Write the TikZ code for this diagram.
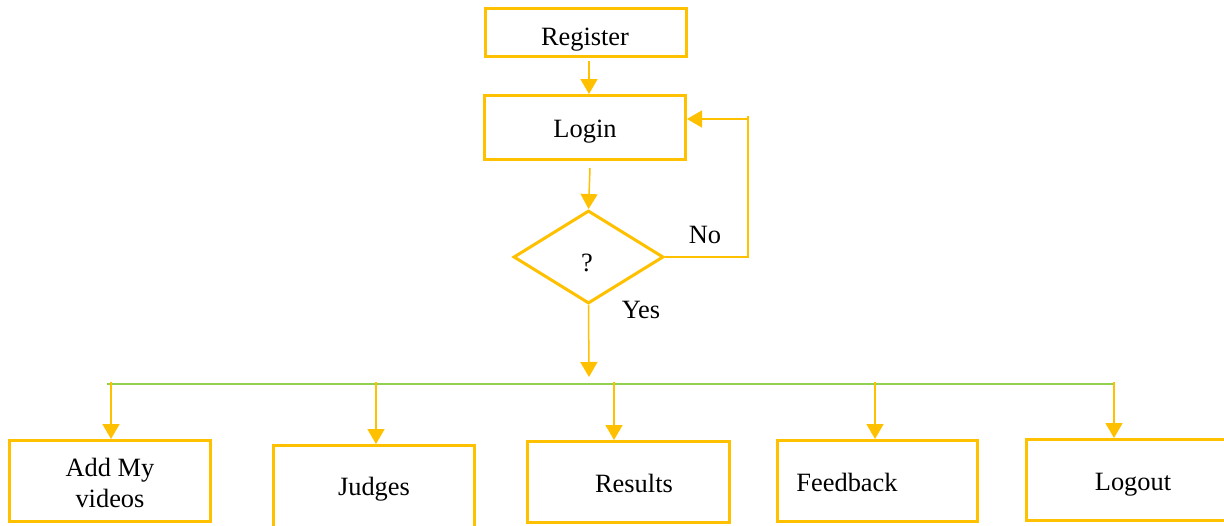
\documentclass[tikz,border=0pt]{standalone}
\usepackage{fontspec}
\setmainfont{Liberation Serif}
\usetikzlibrary{arrows.meta,shapes.geometric}
\definecolor{gold}{HTML}{FFC000}
\definecolor{lgreen}{HTML}{92D050}
\begin{document}
\begin{tikzpicture}[x=1pt,y=-1pt,
  box/.style={draw=gold,line width=3pt,rectangle,inner sep=0pt},
  lbl/.style={anchor=base,inner sep=0pt,font=\fontsize{26.4}{30}\selectfont},
  conn/.style={draw=gold,line width=1.5pt,-{Triangle[length=15pt,width=17pt]}},
  plain/.style={draw=gold,line width=1.5pt},
  bus/.style={draw=lgreen,line width=1.5pt}]
\useasboundingbox (0,0) rectangle (1224,525);
\clip (0,0) rectangle (1224,525);
% boxes
\node[box,minimum width=201pt,minimum height=48pt] (reg) at (586,32.5) {};
\node[box,minimum width=201pt,minimum height=64pt] (login) at (585,127.5) {};
\node[draw=gold,line width=3pt,diamond,inner sep=0pt,minimum width=150pt,minimum height=93pt] (dia) at (588.5,257) {};
\node[box,minimum width=201pt,minimum height=81pt] (add) at (110,481) {};
\node[box,minimum width=201pt,minimum height=93pt] (judges) at (374,492) {};
\node[box,minimum width=202pt,minimum height=81pt] (results) at (628.5,482) {};
\node[box,minimum width=200pt,minimum height=81pt] (feedback) at (877.5,481) {};
\node[box,minimum width=201pt,minimum height=81pt] (logout) at (1127,480) {};
% texts
\node[lbl] (tReg) at (585,45) {Register};
\node[lbl] (tLogin) at (585,137) {Login};
\node[lbl] (tQ) at (587,271) {?};
\node[lbl] (tNo) at (705,243) {No};
\node[lbl] (tYes) at (641,318) {Yes};
\node[lbl] (tAdd1) at (110,476) {Add My};
\node[lbl] (tAdd2) at (110,507) {videos};
\node[lbl] (tJudges) at (374,495) {Judges};
\node[lbl] (tResults) at (634,492) {Results};
\node[lbl] (tFeedback) at (847,491) {Feedback};
\node[lbl] (tLogout) at (1133,490) {Logout};
% coordinates
\coordinate (regOut) at (589,61);
\coordinate (loginOut) at (590,168);
\coordinate (noR) at (748,257);
\coordinate (noT) at (748,119);
\coordinate (yesEnd) at (589,377);
\coordinate (gL) at (107,384);
\coordinate (gR) at (1114,384);
\coordinate (bAdd) at (111,382);
\coordinate (bJudges) at (376,382);
\coordinate (bResults) at (614,382);
\coordinate (bFeedback) at (875,382);
\coordinate (bLogout) at (1114,382);
% connectors
\draw[conn] (regOut) -- (regOut |- login.north);
\draw[conn] (loginOut) -- (dia.north);
\draw[plain] (dia.east) -- (noR) -- (748,116);
\draw[conn] (noT) -- (noT -| login.east);
\draw[conn] (dia.south) -- (yesEnd);
\draw[bus] (gL) -- (gR);
\draw[conn] (bAdd) -- (bAdd |- add.north);
\draw[conn] (bJudges) -- (bJudges |- judges.north);
\draw[conn] (bResults) -- (bResults |- results.north);
\draw[conn] (bFeedback) -- (bFeedback |- feedback.north);
\draw[conn] (bLogout) -- (bLogout |- logout.north);
\end{tikzpicture}
\end{document}
